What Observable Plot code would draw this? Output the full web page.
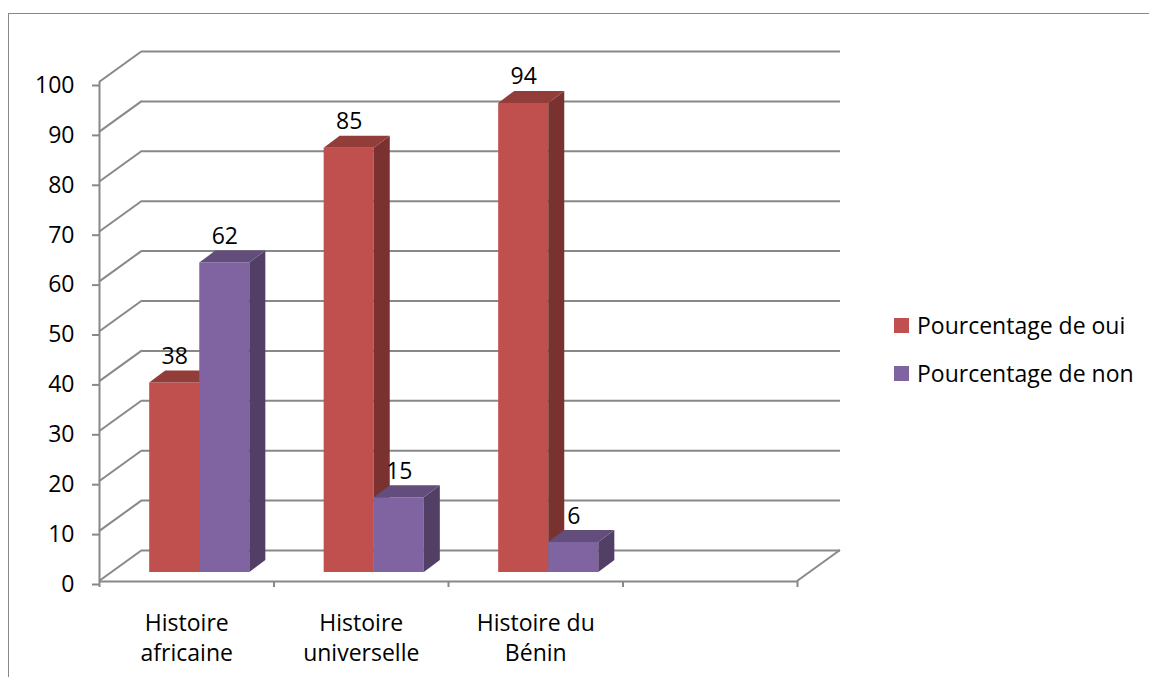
<!DOCTYPE html>
<html>
<head>
<meta charset="utf-8">
<script src="https://cdn.jsdelivr.net/npm/d3@7"></script>
<script src="https://cdn.jsdelivr.net/npm/@observablehq/plot@0.6"></script>
<style>
  html, body { margin: 0; padding: 0; background: #fff; overflow: hidden; }
  #wrap { position: relative; width: 1149px; height: 677px; }
  #frame { position: absolute; left: 8px; top: 12.5px; width: 1200px; height: 800px;
           border-left: 1.5px solid #888; border-top: 1.5px solid #888; box-sizing: border-box; }
  #legend { position: absolute; left: 894px; top: 309px; font-family: "Open Sans", sans-serif;
            font-size: 23px; color: #000; }
  .row { position: absolute; left: 0; display: flex; align-items: center; white-space: nowrap; }
  .sw { width: 15px; height: 15px; margin-right: 8px; flex: none; }
</style>
</head>
<body>
<div id="wrap"><div id="frame"></div><div id="chart"></div><div id="legend"></div></div>
<script>
// ---- data ----
const categories = ["Histoire\nafricaine", "Histoire\nuniverselle", "Histoire du\nBénin", ""];
const seriesNames = ["Pourcentage de oui", "Pourcentage de non"];
const oui = [38, 85, 94];
const non = [62, 15, 6];
const seriesColors = ["#C0504D", "#8064A2"];
const yTicks = [0, 10, 20, 30, 40, 50, 60, 70, 80, 90, 100];

// ---- table built from arrays ----
const bars = [];
oui.forEach((v, i) => {
  bars.push({cat: i, s: 0, series: seriesNames[0], value: v});
  bars.push({cat: i, s: 1, series: seriesNames[1], value: non[i]});
});

// ---- 3D (oblique) styling constants, in pixels ----
const DEPTH = {x: 43, y: -31};        // full depth of walls
const FRONT = {x: 13, y: -9};         // bar front face offset
const SIDE = {x: 16, y: -12};         // bar thickness
const BARW = 0.287;                   // bar width as fraction of a category
const GRID = "#888";

function boxes(index, scales, values) {
  const g = d3.create("svg:g");
  const {x1, x2, y1, y2, fill} = values;
  for (const i of index) {
    const l = x1[i] + FRONT.x, r = x2[i] + FRONT.x;
    const b = y1[i] + FRONT.y, t = y2[i] + FRONT.y;
    const c = d3.color(fill[i]);
    g.append("path").attr("fill", c.formatHex())
      .attr("d", `M${l},${b}L${r},${b}L${r},${t}L${l},${t}Z`);
    g.append("path").attr("fill", c.darker(1.3).formatHex())
      .attr("d", `M${r},${b}L${r + SIDE.x},${b + SIDE.y}L${r + SIDE.x},${t + SIDE.y}L${r},${t}Z`);
    g.append("path").attr("fill", c.darker(0.75).formatHex())
      .attr("d", `M${l},${t}L${r},${t}L${r + SIDE.x},${t + SIDE.y}L${l + SIDE.x},${t + SIDE.y}Z`);
  }
  return g.node();
}

function depthSegments(index, scales, values) {
  const g = d3.create("svg:g").attr("stroke", GRID).attr("stroke-width", 2);
  for (const i of index) {
    g.append("line")
      .attr("x1", values.x[i]).attr("y1", values.y[i])
      .attr("x2", values.x[i] + DEPTH.x).attr("y2", values.y[i] + DEPTH.y);
  }
  return g.node();
}

const n = categories.length;
const barX1 = d => d.cat + 0.5 + (d.s === 0 ? -BARW : 0);

const chart = Plot.plot({
  width: 1149,
  height: 677,
  marginLeft: 99,
  marginRight: 352,
  marginTop: 82,
  marginBottom: 96,
  style: {fontFamily: "Open Sans, sans-serif", fontSize: "23px", color: "#000", background: "transparent", overflow: "visible"},
  x: {domain: [0, n], label: null},
  y: {domain: [0, 100], label: null},
  color: {domain: seriesNames, range: seriesColors},
  marks: [
    // back wall gridlines
    Plot.ruleY(yTicks, {y: d => d, x1: 0, x2: n, dx: DEPTH.x, dy: DEPTH.y, stroke: GRID, strokeWidth: 2}),
    // left wall diagonals
    Plot.dot(yTicks, {x: () => 0, y: d => d, r: 0, render: depthSegments}),
    // right floor diagonal
    Plot.dot([0], {x: () => n, y: d => d, r: 0, render: depthSegments}),
    // front floor edge and y axis line
    Plot.ruleY([0], {x1: 0, x2: n, stroke: GRID, strokeWidth: 2}),
    Plot.ruleX([0], {y1: 0, y2: 100, stroke: GRID, strokeWidth: 2}),
    Plot.axisY({ticks: yTicks, label: null, tickSize: 7, tickPadding: 18, stroke: GRID, strokeWidth: 2, fill: "#000", dy: 3, fontSize: 23}),
    Plot.axisX({ticks: d3.range(0, n + 1), label: null, tickFormat: () => "", tickSize: 6, stroke: GRID, strokeWidth: 2}),
    // bars
    Plot.rect(bars, {x1: barX1, x2: d => barX1(d) + BARW, y1: () => 0, y2: "value", fill: "series", render: boxes}),
    // value labels
    Plot.text(bars, {x: d => barX1(d) + BARW / 2, y: "value", text: d => String(d.value),
      dx: FRONT.x, dy: FRONT.y - 19, lineAnchor: "bottom", fill: "#000", fontSize: 23}),
    // category labels
    Plot.text(categories, {x: (d, i) => i + 0.5, frameAnchor: "bottom", text: d => d,
      lineAnchor: "top", lineHeight: 1.3, dy: 28, fill: "#000", fontSize: 23})
  ]
});
document.getElementById("chart").appendChild(chart);

// legend
const legend = document.getElementById("legend");
seriesNames.forEach((name, i) => {
  const row = document.createElement("div");
  row.className = "row";
  row.style.top = (i * 48) + "px";
  const sw = document.createElement("span");
  sw.className = "sw";
  sw.style.background = seriesColors[i];
  const t = document.createElement("span");
  t.textContent = name;
  row.appendChild(sw); row.appendChild(t);
  legend.appendChild(row);
});
</script>
</body>
</html>
